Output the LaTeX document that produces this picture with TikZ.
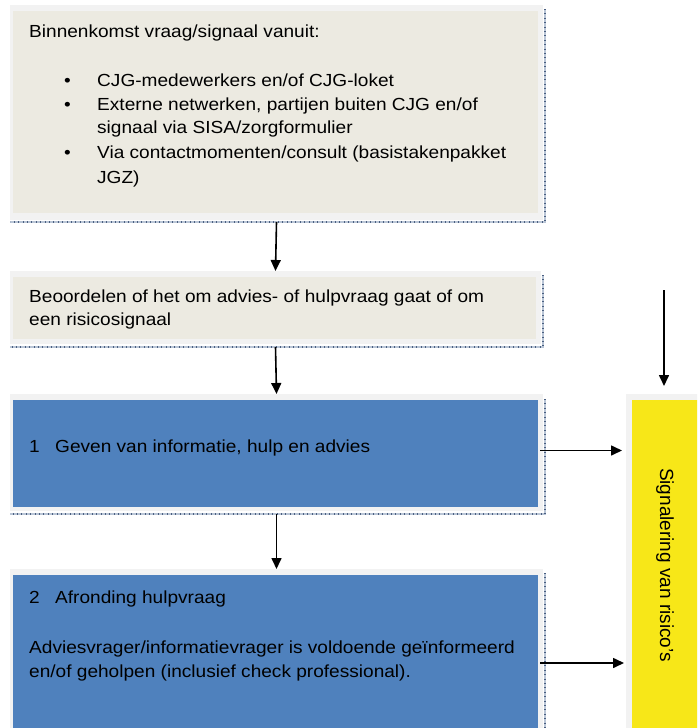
\documentclass[tikz,border=0pt]{standalone}
\usepackage{fontspec}
\setmainfont{Liberation Sans}
\newfontfamily\bodyfont[FakeStretch=1.09]{Liberation Sans}
\usetikzlibrary{arrows.meta}
\definecolor{framegray}{HTML}{F2F2F2}
\definecolor{paper}{HTML}{ECEAE1}
\definecolor{boxblue}{HTML}{4F81BD}
\definecolor{signyellow}{HTML}{F7E718}
\definecolor{rimdark}{HTML}{4A5F80}
\definecolor{rimlight}{HTML}{B9C5D6}
\begin{document}
\begin{tikzpicture}[x=1pt,y=-1pt,
  frame/.style={fill=framegray, inner sep=0pt, outer sep=0pt, anchor=north west},
  rim/.style={draw=rimdark, line width=0.7pt, double=rimlight, double distance=1.4pt,
    postaction={draw=rimdark, line width=2.8pt, dash pattern=on 0.6pt off 3.8pt}},
  arr/.style={-{Triangle[length=11pt,width=10pt]}, line width=1.6pt},
  txt/.style={anchor=base west, inner sep=0pt, font=\bodyfont\fontsize{17.5}{21}\selectfont, text=black}]
\useasboundingbox (0,0) rectangle (697,728);
\clip (0,0) rectangle (697,728);

% outer frames
\node[frame, minimum width=533pt, minimum height=215pt] (f1) at (10,5) {};
\node[frame, minimum width=531pt, minimum height=73pt]  (f2) at (10,271) {};
\node[frame, minimum width=533pt, minimum height=117pt] (f3) at (10,394) {};
\node[frame, minimum width=533pt, minimum height=180pt] (f4) at (10,569) {};
\node[frame, minimum width=90pt,  minimum height=350pt] (fy) at (626,394) {};

% inner fills
\fill[paper]   ([xshift=3pt,yshift=-6pt]f1.north west) rectangle ([xshift=-5pt,yshift=7pt]f1.south east);
\fill[paper]   ([xshift=3pt,yshift=-6pt]f2.north west) rectangle ([xshift=-5pt,yshift=5pt]f2.south east);
\fill[boxblue] ([xshift=3pt,yshift=-6pt]f3.north west) rectangle ([xshift=-5pt,yshift=4pt]f3.south east);
\fill[boxblue] ([xshift=3pt,yshift=-6pt]f4.north west) rectangle ([xshift=-5pt,yshift=4pt]f4.south east);
\fill[signyellow] ([xshift=6pt,yshift=-6pt]fy.north west) rectangle (fy.south east);

% shadow rims on right and bottom
\draw[rim] ([xshift=2pt,yshift=-4pt]f1.north east) -- ([xshift=2pt,yshift=-2pt]f1.south east) -- ([yshift=-2pt]f1.south west);
\draw[rim] ([xshift=2pt,yshift=-4pt]f2.north east) -- ([xshift=2pt,yshift=-3pt]f2.south east) -- ([yshift=-3pt]f2.south west);
\draw[rim] ([xshift=2pt,yshift=-5pt]f3.north east) -- ([xshift=2pt,yshift=-3pt]f3.south east) -- ([yshift=-3pt]f3.south west);
\draw[rim] ([xshift=2pt,yshift=-4pt]f4.north east) -- ([xshift=2pt]f4.south east);

% texts of the first box
\node[txt] (t1) at (29,37.5) {Binnenkomst vraag/signaal vanuit:};
\node[txt] (b1) at (64,86.5) {•};
\node[txt] (t2) at (97,86.5) {CJG-medewerkers en/of CJG-loket};
\node[txt] (b2) at (64,110) {•};
\node[txt] (t3) at (97,110) {Externe netwerken, partijen buiten CJG en/of};
\node[txt] (t4) at (97,133.5) {signaal via SISA/zorgformulier};
\node[txt] (b3) at (64,158.5) {•};
\node[txt] (t5) at (97,158.5) {Via contactmomenten/consult (basistakenpakket};
\node[txt] (t6) at (97,183) {JGZ)};

% second box
\node[txt] (t7) at (29,302) {Beoordelen of het om advies- of hulpvraag gaat of om};
\node[txt] (t8) at (29,325) {een risicosignaal};

% blue boxes
\node[txt] (t9)  at (29,452.5) {\makebox[26pt][l]{1}Geven van informatie, hulp en advies};
\node[txt] (t10) at (29,603)   {\makebox[26pt][l]{2}Afronding hulpvraag};
\node[txt] (t11) at (29,653)   {Adviesvrager/informatievrager is voldoende geïnformeerd};
\node[txt] (t12) at (29,677)   {en/of geholpen (inclusief check professional).};

% yellow side box
\node[rotate=-90, inner sep=0pt, font=\fontsize{19}{22}\selectfont] (sig) at (665,565) {Signalering van risico's};

% connectors
\draw[arr] ([yshift=-2pt]f1.south) -- (f2.north);
\draw[arr] ([yshift=-3pt]f2.south) -- (f3.north);
\draw[arr] ([yshift=-3pt]f3.south) -- (f4.north);
\coordinate (sigin) at (664,290);
\draw[arr] (sigin) -- ([yshift=8pt]fy.north -| sigin);
\draw[arr] ([xshift=-3pt,yshift=2pt]f3.east) -- ([xshift=-4pt,yshift=2pt]f3.east -| fy.west);
\draw[arr] ([xshift=-3pt,yshift=-94pt]f4.north east) -- ([xshift=-2pt,yshift=-94pt]f4.north east -| fy.west);
\end{tikzpicture}
\end{document}
